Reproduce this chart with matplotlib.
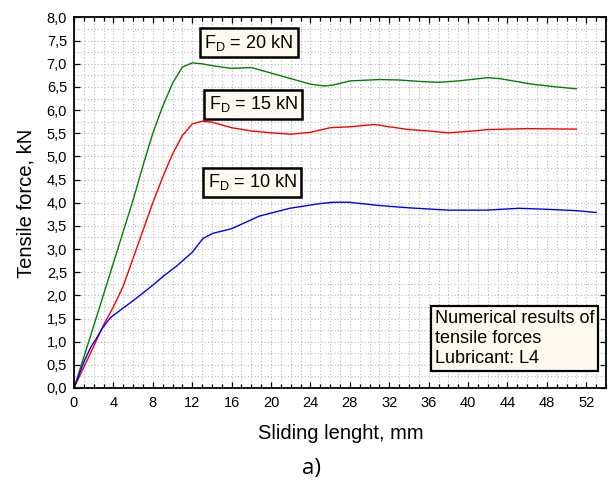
import matplotlib
matplotlib.use("Agg")
import matplotlib.pyplot as plt
from matplotlib.ticker import MultipleLocator, FuncFormatter

plt.rcParams['font.family'] = ['Liberation Sans', 'DejaVu Sans']

# Tensile force vs sliding length for three holding forces F_D
x_20 = [0, 2, 4, 6, 7, 8, 9, 10, 11, 12, 13, 14, 16, 18, 20, 22, 24, 25.4,
        26.3, 28, 31, 33, 35, 37, 39, 42, 43.2, 46.5, 49, 51]
f_20 = [0, 1.34, 2.7, 4.06, 4.8, 5.5, 6.08, 6.58, 6.93, 7.02, 7.0, 6.96, 6.9,
        6.92, 6.8, 6.68, 6.56, 6.52, 6.54, 6.63, 6.66, 6.65, 6.62, 6.6, 6.63,
        6.7, 6.68, 6.56, 6.5, 6.46]

x_15 = [0, 1, 2, 3, 4, 5, 6, 7, 8, 9, 10, 11, 12, 13, 14, 16,
        18, 20, 22, 24, 26, 28, 30.5, 32, 34, 36, 38, 40, 42, 46, 51]
f_15 = [0, 0.45, 0.9, 1.36, 1.75, 2.2, 2.8, 3.4, 4.0, 4.55, 5.05, 5.45,
        5.7, 5.76, 5.74, 5.62, 5.55, 5.51, 5.48, 5.52, 5.62, 5.64, 5.69,
        5.64, 5.58, 5.55, 5.51, 5.54, 5.58, 5.6, 5.59]

x_10 = [0, 1, 1.7, 2.3, 2.9, 3.7, 6.1, 8, 9.1, 10.4, 12, 13.1, 14.1, 16, 18.8,
        21.9, 24.9, 26.3, 27.9, 31, 34, 38, 41.8, 45.2, 47.8, 50.9, 53]
f_10 = [0, 0.56, 0.88, 1.08, 1.3, 1.52, 1.9, 2.22, 2.42, 2.63, 2.93, 3.23,
        3.34, 3.44, 3.71, 3.88, 3.98, 4.01, 4.01, 3.94, 3.89, 3.84, 3.84,
        3.88, 3.86, 3.83, 3.79]

series_labels = ["$\\mathregular{F_D}$ = 20 kN", "$\\mathregular{F_D}$ = 15 kN",
                 "$\\mathregular{F_D}$ = 10 kN"]
label_pos = [(17.75, 7.45), (18.2, 6.13), (18.1, 4.44)]

fig = plt.figure(figsize=(6.08, 4.83), dpi=100)
ax = fig.add_axes([0.1217, 0.1967, 0.8750, 0.7671])

ax.plot(x_20, f_20, color='#008000', lw=1.0)
ax.plot(x_15, f_15, color='#ff0000', lw=1.0)
ax.plot(x_10, f_10, color='#0000ff', lw=1.0)

ax.set_xlim(0, 54)
ax.set_ylim(0, 8)
ax.xaxis.set_major_locator(MultipleLocator(4))
ax.xaxis.set_minor_locator(MultipleLocator(1))
ax.yaxis.set_major_locator(MultipleLocator(0.5))
ax.yaxis.set_minor_locator(MultipleLocator(0.25))
ax.yaxis.set_major_formatter(FuncFormatter(lambda v, p: f"{v:.1f}".replace('.', ',')))

ax.grid(which='both', color='#b8b8b8', linestyle=(0, (1, 2)), linewidth=0.8)
ax.set_axisbelow(True)
ax.tick_params(which='both', direction='in', top=True, right=True,
               labelsize=10.5, width=0.9, colors='black')
ax.tick_params(which='major', length=4)
ax.tick_params(axis='x', which='minor', length=3)
ax.tick_params(axis='y', which='minor', length=0)
ax.tick_params(axis='x', which='major', pad=6)
ax.tick_params(axis='y', which='major', pad=5)
for s in ax.spines.values():
    s.set_linewidth(1.3)

ax.set_xlabel("Sliding lenght, mm", fontsize=14.5)
ax.set_ylabel("Tensile force, kN", fontsize=14.5)
ax.xaxis.set_label_coords(0.501, -0.098)
ax.yaxis.set_label_coords(-0.073, 0.497)

box = dict(boxstyle='square,pad=0.25', facecolor='#fffaf0', edgecolor='black',
           linewidth=1.8)
for text, (bx, by) in zip(series_labels, label_pos):
    ax.text(bx, by, text, fontsize=13, ha='center', va='center', bbox=box)

ax.text(36.6, 1.07, "Numerical results of\ntensile forces\nLubricant: L4",
        fontsize=13, ha='left', va='center', linespacing=1.25,
        bbox=dict(boxstyle='square,pad=0.2', facecolor='#fffaf0',
                  edgecolor='black', linewidth=1.6))

fig.text(0.513, 0.031, "a)", fontsize=16, ha='center', va='center',
         family=['Open Sans', 'DejaVu Sans'])

fig.savefig("out.png", dpi=100)
